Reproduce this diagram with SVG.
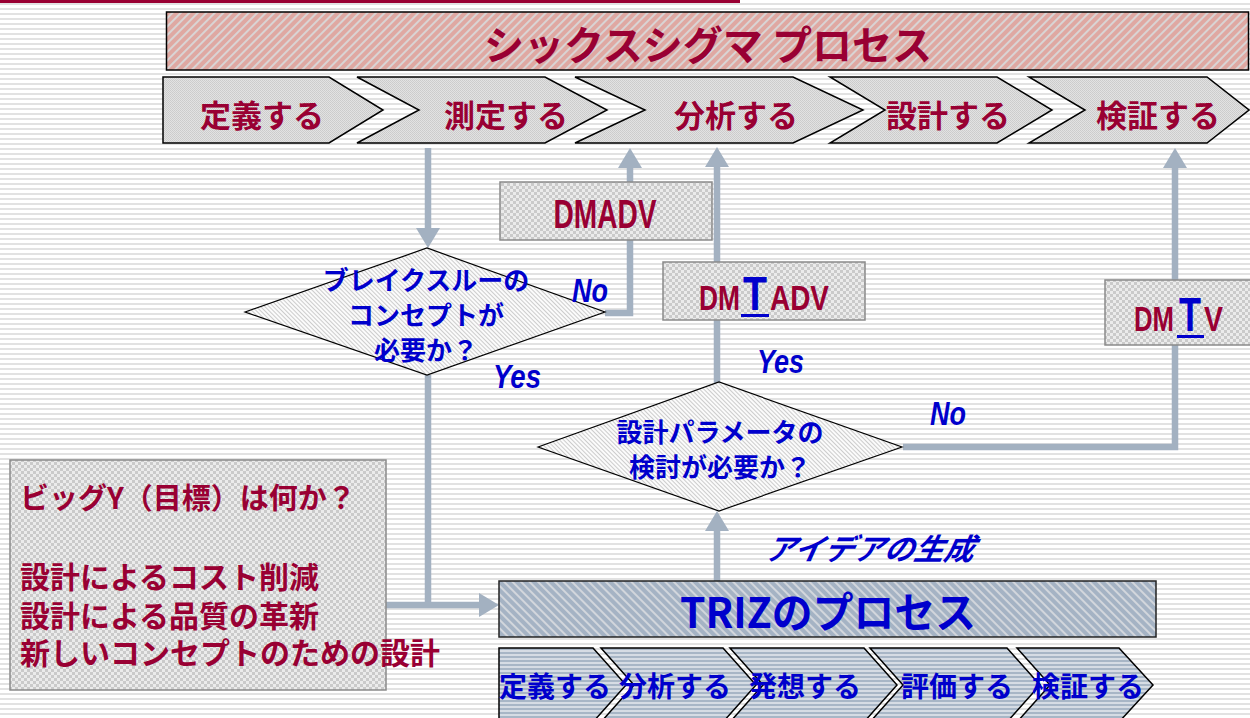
<svg xmlns="http://www.w3.org/2000/svg" width="1250" height="718" viewBox="0 0 1250 718">
<defs>
<pattern id="bg" width="10" height="5" patternUnits="userSpaceOnUse"><rect width="10" height="5" fill="#ffffff"/><rect y="3" width="10" height="2" fill="#e2e2e2"/></pattern>
<pattern id="pinkHatch" width="6" height="6" patternUnits="userSpaceOnUse" patternTransform="rotate(45)"><rect width="6" height="6" fill="#d9d4d4"/><rect width="4" height="6" fill="#dfa8a2"/></pattern>
<pattern id="blueHatch" width="6" height="6" patternUnits="userSpaceOnUse" patternTransform="rotate(-45)"><rect width="6" height="6" fill="#d2d6dc"/><rect width="4" height="6" fill="#a5b3c4"/></pattern>
<pattern id="diaHatch" width="3" height="3" patternUnits="userSpaceOnUse" patternTransform="rotate(-45)"><rect width="3" height="3" fill="#fbfbfb"/><rect width="1" height="3" fill="#cccccc"/></pattern>
<pattern id="dots" width="2" height="2" patternUnits="userSpaceOnUse"><rect width="2" height="2" fill="#e2e2e2"/><rect width="1" height="1" fill="#cbcbcb"/><rect x="1" y="1" width="1" height="1" fill="#cecece"/></pattern>
<pattern id="checker" width="6" height="6" patternUnits="userSpaceOnUse"><rect width="6" height="6" fill="#ebebeb"/><rect width="3" height="3" fill="#cacaca"/><rect x="3" y="3" width="3" height="3" fill="#cacaca"/></pattern>
<pattern id="blueStripes" width="8" height="4" patternUnits="userSpaceOnUse"><rect width="8" height="4" fill="#d6dce4"/><rect width="8" height="2" fill="#a8b6c6"/></pattern>
<marker id="arr" markerUnits="userSpaceOnUse" markerWidth="22" markerHeight="24" refX="0" refY="12" orient="auto"><path d="M0,0 L20,12 L0,24 Z" fill="#a3b1c1"/></marker>
<style>
.jp{font-family:"Noto Sans CJK JP","Liberation Sans",sans-serif;font-weight:bold}
.red{fill:#990033}
.blue{fill:#0000cc}
.lat{font-family:"Liberation Sans","Noto Sans",sans-serif;font-weight:bold}
.it{font-family:"Liberation Sans","Noto Sans",sans-serif;font-weight:bold;font-style:italic;fill:#0000cc}
.chev{fill:url(#dots);stroke:#000;stroke-width:1.5}
.bchev{fill:url(#blueStripes);stroke:#000;stroke-width:1.5}
.box{fill:url(#checker);stroke:#8a8a8a;stroke-width:1.5}
.dia{fill:url(#diaHatch);stroke:#000;stroke-width:1.2}
.con{fill:none;stroke:#a3b1c1;stroke-width:6.5}
</style>
</defs>
<rect width="1250" height="718" fill="url(#bg)"/>
<rect x="0" y="0" width="740" height="3" fill="#990033"/>

<g id="sixsigma-title">
<rect x="166.5" y="12" width="1082" height="58" fill="url(#pinkHatch)" stroke="#000" stroke-width="1.5"/>
<text x="708" y="60" text-anchor="middle" font-size="40" class="jp red">シックスシグマ プロセス</text>
</g>

<g id="step-define">
<path class="chev" d="M163,77 L329,77 L383,110 L329,143 L163,143 Z"/>
<text x="262" y="127" text-anchor="middle" font-size="31" class="jp red">定義する</text>
</g>
<g id="step-measure">
<path class="chev" d="M357,77 L545,77 L607,110 L545,143 L357,143 L419,110 Z"/>
<text x="506" y="127" text-anchor="middle" font-size="31" class="jp red">測定する</text>
</g>
<g id="step-analyze">
<path class="chev" d="M575,77 L793,77 L863,110 L793,143 L575,143 L645,110 Z"/>
<text x="736" y="127" text-anchor="middle" font-size="31" class="jp red">分析する</text>
</g>
<g id="step-design">
<path class="chev" d="M830,77 L997,77 L1052,110 L997,143 L830,143 L885,110 Z"/>
<text x="948" y="127" text-anchor="middle" font-size="31" class="jp red">設計する</text>
</g>
<g id="step-verify">
<path class="chev" d="M1029,77 L1207,77 L1249,110 L1207,143 L1029,143 L1085,110 Z"/>
<text x="1158" y="127" text-anchor="middle" font-size="31" class="jp red">検証する</text>
</g>

<g id="connectors">
<path class="con" d="M428,148 V228" marker-end="url(#arr)"/>
<path class="con" d="M605,313 H630 V168" marker-end="url(#arr)"/>
<path class="con" d="M717,383 V167" marker-end="url(#arr)"/>
<path class="con" d="M903,447 H1175 V168" marker-end="url(#arr)"/>
<path class="con" d="M428,375 V605"/>
<path class="con" d="M386,605 H479" marker-end="url(#arr)"/>
<path class="con" d="M717,581 V531" marker-end="url(#arr)"/>
</g>

<g id="dmadv">
<rect class="box" x="500" y="182" width="212" height="58"/>
<text x="605" y="228" text-anchor="middle" font-size="40" class="lat red" textLength="103" lengthAdjust="spacingAndGlyphs">DMADV</text>
</g>

<g id="dmtadv">
<rect class="box" x="663" y="262" width="202" height="58"/>
<text y="310" class="lat red" font-size="35"><tspan x="699" textLength="41" lengthAdjust="spacingAndGlyphs">DM</tspan><tspan x="743" class="blue" font-size="48" textLength="24" lengthAdjust="spacingAndGlyphs">T</tspan><tspan x="770" textLength="59" lengthAdjust="spacingAndGlyphs">ADV</tspan></text>
<rect x="741" y="314" width="28" height="3" fill="#0000cc"/>
</g>

<g id="dmtv">
<rect class="box" x="1105" y="280" width="150" height="65"/>
<text y="331" class="lat red" font-size="35"><tspan x="1134" textLength="40" lengthAdjust="spacingAndGlyphs">DM</tspan><tspan x="1179" class="blue" font-size="48" textLength="22" lengthAdjust="spacingAndGlyphs">T</tspan><tspan x="1204" textLength="19" lengthAdjust="spacingAndGlyphs">V</tspan></text>
<rect x="1177" y="335" width="27" height="3" fill="#0000cc"/>
</g>

<g id="decision-breakthrough">
<path class="dia" d="M245,312 L427,248 L605,312 L427,375 Z"/>
<text x="426" y="290" text-anchor="middle" font-size="26" class="jp blue">ブレイクスルーの</text>
<text x="426" y="325" text-anchor="middle" font-size="26" class="jp blue">コンセプトが</text>
<text x="426" y="360" text-anchor="middle" font-size="26" class="jp blue">必要か？</text>
</g>

<g id="decision-design-params">
<path class="dia" d="M538,447 L719,382 L902,447 L719,511 Z"/>
<text x="720" y="442" text-anchor="middle" font-size="26" class="jp blue">設計パラメータの</text>
<text x="720" y="477" text-anchor="middle" font-size="26" class="jp blue">検討が必要か？</text>
</g>

<g id="labels">
<text x="572" y="302" font-size="33" class="it" textLength="36" lengthAdjust="spacingAndGlyphs">No</text>
<text x="493" y="388" font-size="33" class="it" textLength="48" lengthAdjust="spacingAndGlyphs">Yes</text>
<text x="757" y="373" font-size="33" class="it" textLength="47" lengthAdjust="spacingAndGlyphs">Yes</text>
<text x="930" y="425" font-size="33" class="it" textLength="36" lengthAdjust="spacingAndGlyphs">No</text>
<text x="765" y="560" font-size="30" class="jp blue" font-style="italic" transform="skewX(-12) translate(118,0)">アイデアの生成</text>
</g>

<g id="big-y">
<rect class="box" x="10" y="460" width="376" height="230"/>
<text x="20" y="509" font-size="29" class="jp red">ビッグY（目標）は何か？</text>
<text x="20" y="588" font-size="30" class="jp red">設計によるコスト削減</text>
<text x="20" y="627" font-size="30" class="jp red">設計による品質の革新</text>
<text x="20" y="664" font-size="30" class="jp red">新しいコンセプトのための設計</text>
</g>

<g id="triz-title">
<rect x="499" y="581" width="657" height="56" fill="url(#blueHatch)" stroke="#222" stroke-width="1.5"/>
<text x="680" y="628" font-size="42" class="jp blue" textLength="296" lengthAdjust="spacingAndGlyphs">TRIZのプロセス</text>
</g>

<g id="triz-define">
<path class="bchev" d="M499,648 L593,648 L626,685 L593,722 L499,722 Z"/>
<text x="555" y="697" text-anchor="middle" font-size="28" class="jp blue">定義する</text>
</g>
<g id="triz-analyze">
<path class="bchev" d="M601,648 L723,648 L756,685 L723,722 L601,722 L634,685 Z"/>
<text x="675" y="697" text-anchor="middle" font-size="28" class="jp blue">分析する</text>
</g>
<g id="triz-ideate">
<path class="bchev" d="M730,648 L864,648 L897,685 L864,722 L730,722 L763,685 Z"/>
<text x="805" y="697" text-anchor="middle" font-size="28" class="jp blue">発想する</text>
</g>
<g id="triz-evaluate">
<path class="bchev" d="M870,648 L1007,648 L1040,685 L1007,722 L870,722 L903,685 Z"/>
<text x="957" y="697" text-anchor="middle" font-size="28" class="jp blue">評価する</text>
</g>
<g id="triz-verify">
<path class="bchev" d="M1017,648 L1119,648 L1153,685 L1119,722 L1017,722 L1050,685 Z"/>
<text x="1088" y="697" text-anchor="middle" font-size="28" class="jp blue">検証する</text>
</g>
</svg>
